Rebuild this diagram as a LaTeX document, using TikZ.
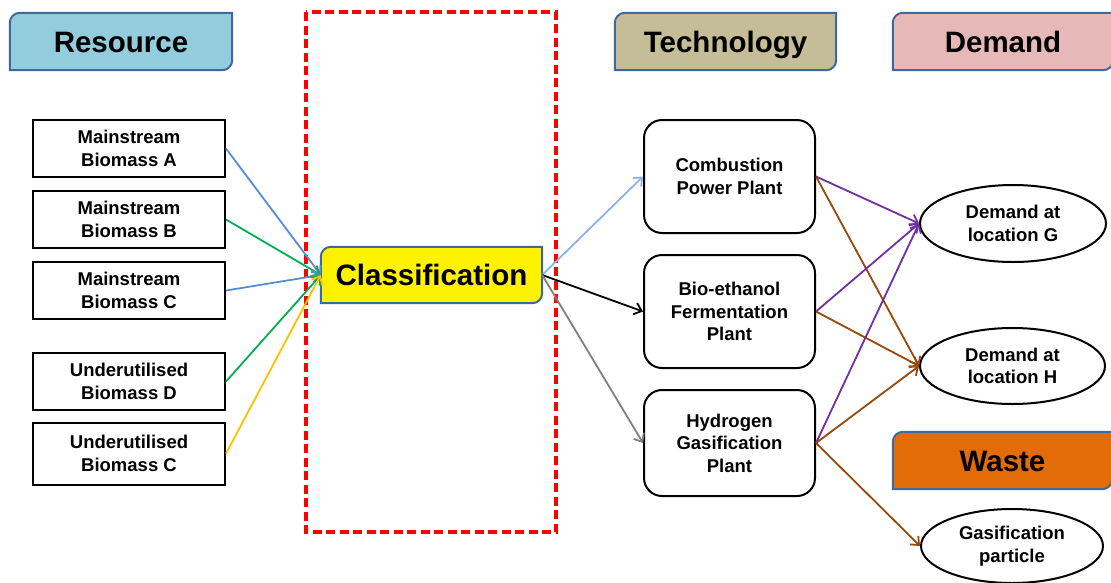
\documentclass[tikz,border=0pt]{standalone}
\usepackage{fontspec}
\setmainfont{Liberation Sans}
\usetikzlibrary{arrows.meta,shapes.geometric,backgrounds}
\definecolor{frameblue}{HTML}{41689A}
\definecolor{resfill}{HTML}{93CDDD}
\definecolor{techfill}{HTML}{C4BD97}
\definecolor{demfill}{HTML}{E6B9B8}
\definecolor{wastefill}{HTML}{E36C09}
\definecolor{cblue}{HTML}{558ED5}
\definecolor{cgreen}{HTML}{00B050}
\definecolor{corange}{HTML}{FFC000}
\definecolor{clblue}{HTML}{8DB3E2}
\definecolor{cgray}{HTML}{808080}
\definecolor{cpurple}{HTML}{7030A0}
\definecolor{cbrown}{HTML}{984807}
\newcommand\diagframe[2]{%
  \begin{pgfonlayer}{background}
  \filldraw[draw=frameblue, line width=2pt, fill=#2]
    (#1.south west) -- ([yshift=-10pt]#1.north west)
    arc[start angle=180,end angle=90,radius=10pt] -- (#1.north east)
    -- ([yshift=10pt]#1.south east)
    arc[start angle=0,end angle=-90,radius=10pt] -- cycle;
  \end{pgfonlayer}}
\tikzset{
  hdr/.style={inner sep=0pt, text height=21pt, text depth=-1pt,
    font=\fontsize{29.5}{32}\selectfont\bfseries},
  resbox/.style={draw=black, line width=2pt, minimum width=192pt, inner sep=0pt,
    align=center, font=\fontsize{18.5}{22.5}\selectfont\bfseries},
  techbox/.style={draw=black, line width=2pt, rounded corners=18pt, minimum width=171pt,
    inner sep=0pt, align=center, font=\fontsize{18.5}{22.5}\selectfont\bfseries},
  demell/.style={ellipse, draw=black, line width=2pt, inner sep=0pt, align=center,
    font=\fontsize{18.5}{22.5}\selectfont\bfseries},
  conn/.style={line width=1.8pt, -{Straight Barb[length=7pt,width=12pt]}},
}
\begin{document}
\begin{tikzpicture}[x=1pt,y=1pt]
\useasboundingbox (0,0) rectangle (1111,-582);
% frame
\draw[red, line width=3.2pt, dash pattern=on 9pt off 4.5pt] (306,-12) rectangle (556,-532);
% headers
\node[hdr, minimum width=222pt, minimum height=57pt] (hres) at (121,-41.5) {Resource};
\diagframe{hres}{resfill}
\node[hdr, minimum width=221pt, minimum height=57pt] (htech) at (725.5,-41.5) {Technology};
\diagframe{htech}{techfill}
\node[hdr, minimum width=220pt, minimum height=57pt] (hdem) at (1003,-41.5) {Demand};
\diagframe{hdem}{demfill}
\node[hdr, minimum width=219pt, minimum height=57pt] (hwaste) at (1002.5,-460.5) {Waste};
\diagframe{hwaste}{wastefill}
% resources
\node[resbox, minimum height=57pt] (ra) at (129,-148.5) {Mainstream\\Biomass A};
\node[resbox, minimum height=57pt] (rb) at (129,-219.5) {Mainstream\\Biomass B};
\node[resbox, minimum height=57pt] (rc) at (129,-290.5) {Mainstream\\Biomass C};
\node[resbox, minimum height=57pt] (rd) at (129,-381.5) {Underutilised\\Biomass D};
\node[resbox, minimum height=62pt] (re) at (129,-453.5) {Underutilised\\Biomass C};
% classification
\node[hdr, minimum width=221pt, minimum height=56pt] (cls) at (431.5,-275) {Classification};
\diagframe{cls}{yellow}
% technologies
\node[techbox, minimum height=113pt] (tc) at (729.5,-176.5) {Combustion\\Power Plant};
\node[techbox, minimum height=113pt] (tb) at (729.5,-311.5) {Bio-ethanol\\Fermentation\\Plant};
\node[techbox, minimum height=106pt] (th) at (729.5,-443) {Hydrogen\\Gasification\\Plant};
% demands
\node[demell, minimum width=186pt, minimum height=77pt] (dg) at (1013,-223.5) {Demand at\\location G};
\node[demell, minimum width=185pt, minimum height=76pt] (dh) at (1012.5,-366) {Demand at\\location H};
\node[demell, minimum width=182pt, minimum height=74pt] (wg) at (1012,-546) {Gasification\\particle};
% connectors
\draw[conn, cblue] (ra.east) -- (cls.west);
\draw[conn, cgreen] (rb.east) -- (cls.west);
\draw[conn, cblue] (rc.east) -- (cls.west);
\draw[conn, cgreen] (rd.east) -- (cls.west);
\draw[conn, corange] (re.east) -- (cls.west);
\draw[conn, clblue] (cls.east) -- (tc.west);
\draw[conn, black] (cls.east) -- (tb.west);
\draw[conn, cgray] (cls.east) -- (th.west);
\draw[conn, cpurple] (tc.east) -- (dg.west);
\draw[conn, cbrown] (tc.east) -- (dh.west);
\draw[conn, cpurple] (tb.east) -- (dg.west);
\draw[conn, cbrown] (tb.east) -- (dh.west);
\draw[conn, cpurple] (th.east) -- (dg.west);
\draw[conn, cbrown] (th.east) -- (dh.west);
\draw[conn, cbrown] (th.east) -- (wg.west);
\end{tikzpicture}
\end{document}
